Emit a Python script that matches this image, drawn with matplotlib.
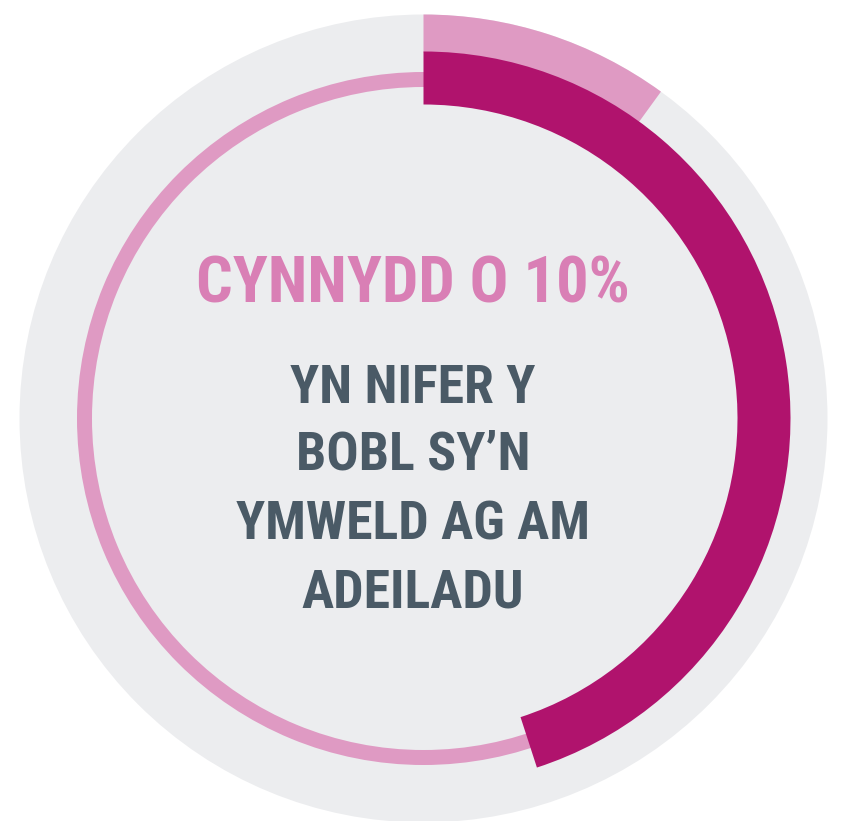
import numpy as np
import matplotlib.pyplot as plt
from matplotlib.patches import Circle, Wedge

# data
increase_pct = 10      # outer light arc
share_pct = 45         # thick magenta arc
headline = "CYNNYDD O 10%"
sub_lines = ["YN NIFER Y", "BOBL SY\u2019N", "YMWELD AG AM", "ADEILADU"]

W, H = 846, 821
fig = plt.figure(figsize=(W / 100, H / 100), dpi=100)
ax = fig.add_axes([0, 0, 1, 1])
ax.set_xlim(0, W)
ax.set_ylim(0, H)
ax.set_aspect('equal')
ax.axis('off')

cx, cy = 423.5, H - 418.5

ax.add_patch(Circle((cx, cy), 404, color='#ECEDEF', lw=0))
ax.add_patch(Wedge((cx, cy), 404, 90 - increase_pct * 3.6, 90, width=38,
                   color='#DF9AC3', lw=0))
ax.add_patch(Wedge((cx, cy), 346.5, 0, 360, width=15, color='#DF9AC3', lw=0))
ax.add_patch(Wedge((cx, cy), 367, 90 - share_pct * 3.6, 90, width=53,
                   color='#B0136D', lw=0))

fam = ['Roboto Condensed', 'Roboto', 'DejaVu Sans']
r = fig.canvas.get_renderer()


def fit_size(txt, target_w):
    t = ax.text(0, 0, txt, fontsize=40, fontweight='bold', family=fam)
    w = t.get_window_extent(renderer=r).width
    t.remove()
    return 40 * target_w / w


def put(txt, yc_img, fs, col):
    cap = 0.711 * fs * 100 / 72
    base = H - (yc_img + cap / 2)
    ax.text(413, base, txt, ha='center', va='baseline', fontsize=fs,
            color=col, fontweight='bold', family=fam)


put(headline, 279.5, fit_size(headline, 433), '#D97FB5')
fs_sub = fit_size(sub_lines[2], 353)
for line, yc in zip(sub_lines, [384, 450.5, 520, 588.5]):
    put(line, yc, fs_sub, '#4A5A66')

fig.savefig('out.png', dpi=100)
